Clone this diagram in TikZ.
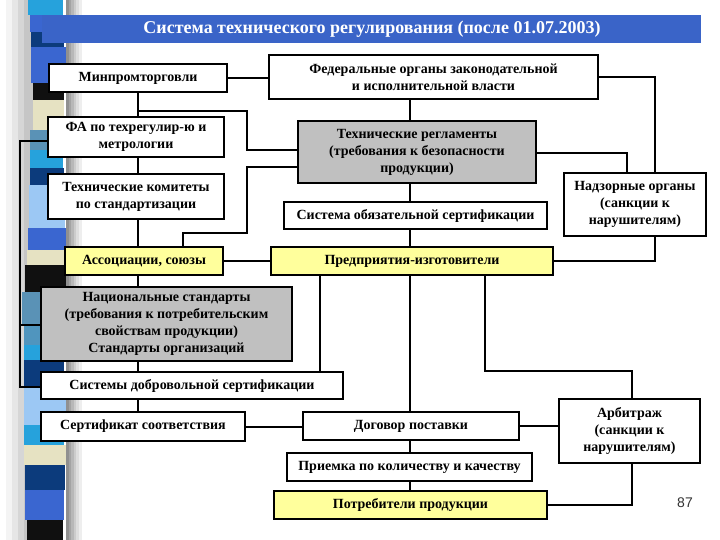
\documentclass[tikz,border=0pt]{standalone}
\usepackage{fontspec}
\setmainfont{Liberation Serif}
\setsansfont{Liberation Sans}
\definecolor{boxgray}{HTML}{C0C0C0}
\definecolor{boxyellow}{HTML}{FFFF9C}
\definecolor{titleblue}{HTML}{3A64C8}
\definecolor{stSky}{HTML}{26A2DC}
\definecolor{stBlue}{HTML}{3A66D0}
\definecolor{stNavy}{HTML}{0C3B7C}
\definecolor{stBlack}{HTML}{101010}
\definecolor{stBeige}{HTML}{E6E2C2}
\definecolor{stSteel}{HTML}{5A92B6}
\definecolor{stLight}{HTML}{9CC8F4}
\definecolor{numgray}{HTML}{333333}
\definecolor{shA}{HTML}{909090}
\definecolor{shB}{HTML}{A4A4A4}
\definecolor{shC}{HTML}{B8B8B8}
\definecolor{shD}{HTML}{CCCCCC}
\definecolor{shE}{HTML}{DEDEDE}
\definecolor{shF}{HTML}{EEEEEE}
\definecolor{lgA}{HTML}{F4F4F4}
\definecolor{lgB}{HTML}{E6E6E6}
\definecolor{lgC}{HTML}{D6D6D6}
\definecolor{lgD}{HTML}{C6C6C6}
\begin{document}
\begin{tikzpicture}[x=1pt,y=-1pt,
  box/.style={draw=black,line width=1.7pt,fill=white,inner sep=0pt,align=center,
    font=\bfseries\fontsize{14}{17}\selectfont},
  gbox/.style={box,fill=boxgray},
  ybox/.style={box,fill=boxyellow},
  conn/.style={line width=2pt,black}]
\useasboundingbox (0,0) rectangle (720,540);
\fill[white] (0,0) rectangle (720,540);
% left soft gradient
\fill[lgA] (6,0) rectangle (13,540);
\fill[lgB] (12,0) rectangle (19,540);
\fill[lgC] (18,0) rectangle (25,540);
\fill[lgD] (24,0) rectangle (34,540);
% left decorative stripes
\foreach \ya/\yb/\stc/\xl/\xr in {0/15/stSky/28/63, 15/32/stBlue/30/66, 32/47/stNavy/31/64, 47/83/stBlue/31/66,
  83/100/stBlack/33/64, 100/130/stBeige/33/64, 130/150/stSteel/30/65, 150/168/stSky/30/63,
  168/185/stNavy/30/64, 185/228/stLight/29/65, 228/250/stBlue/28/66, 250/265/stBeige/27/64,
  265/292/stBlack/25/67, 292/325/stSteel/22/66, 325/345/stSteel!80!stSky/24/64, 345/360/stSky/24/65,
  360/387/stNavy/24/64, 387/425/stLight/24/66, 425/445/stSky/24/64, 445/465/stBeige/24/66,
  465/490/stNavy/25/65, 490/520/stBlue/25/64, 520/540/stBlack/27/63}
  {\fill[\stc] (\xl,\ya) rectangle (\xr,\yb);}
% shadow right of the stripes
\fill[shA] (66,0) rectangle (69,540);
\fill[shB] (68.8,0) rectangle (71.5,540);
\fill[shC] (71.3,0) rectangle (74,540);
\fill[shD] (73.8,0) rectangle (76.5,540);
\fill[shE] (76.3,0) rectangle (79,540);
\fill[shF] (78.8,0) rectangle (82,540);
% title bar
\fill[titleblue] (42,15) rectangle (701,43);
\node[text=white,font=\bfseries\fontsize{18}{21}\selectfont,inner sep=0pt] (title) at (372,29)
  {Система технического регулирования (после 01.07.2003)};
% boxes
\node[box,minimum width=178pt,minimum height=28pt] (minprom) at (138,78) {Минпромторговли};
\node[box,minimum width=329pt,minimum height=44pt] (fed) at (433.5,77)
  {Федеральные органы законодательной\\и исполнительной власти};
\node[box,minimum width=176pt,minimum height=40pt] (fa) at (136,137)
  {ФА по техрегулир-ю и\\метрологии};
\node[gbox,minimum width=238pt,minimum height=62pt] (techreg) at (417,152)
  {Технические регламенты\\(требования к безопасности\\продукции)};
\node[box,minimum width=176pt,minimum height=45pt] (techkom) at (136,196.5)
  {Технические комитеты\\по стандартизации};
\node[box,minimum width=263pt,minimum height=27pt] (oblig) at (415.5,215.5)
  {Система обязательной сертификации};
\node[box,minimum width=142pt,minimum height=63pt] (nadzor) at (635,204.5)
  {Надзорные органы\\(санкции к\\нарушителям)};
\node[ybox,minimum width=158pt,minimum height=28pt] (assoc) at (144,261) {Ассоциации, союзы};
\node[ybox,minimum width=282pt,minimum height=28pt] (predpr) at (412,261) {Предприятия-изготовители};
\node[gbox,minimum width=251pt,minimum height=74pt] (natstd) at (166.5,324)
  {Национальные стандарты\\(требования к потребительским\\свойствам продукции)\\Стандарты организаций};
\node[box,minimum width=302pt,minimum height=27pt] (dobr) at (192,385.5)
  {Системы добровольной сертификации};
\node[box,minimum width=204pt,minimum height=29pt] (sert) at (143,426.5) {Сертификат соответствия};
\node[box,minimum width=216pt,minimum height=28pt] (dogovor) at (411,426) {Договор поставки};
\node[box,minimum width=141pt,minimum height=64pt] (arb) at (629.5,431)
  {Арбитраж\\(санкции к\\нарушителям)};
\node[box,minimum width=245pt,minimum height=28pt] (priem) at (409.5,467)
  {Приемка по количеству и качеству};
\node[ybox,minimum width=273pt,minimum height=28pt] (potreb) at (410.5,505) {Потребители продукции};
\node[font=\sffamily\fontsize{14}{16}\selectfont,text=numgray,inner sep=0pt] (num) at (685,503) {87};
% coordinates
\coordinate (u) at (138,0);
\coordinate (v) at (410,0);
\coordinate (j1) at (138,111);
\coordinate (b1) at (247,111);
\coordinate (b2) at (247,150);
\coordinate (c1) at (247,167);
\coordinate (c2) at (247,233);
\coordinate (c3) at (183,233);
\coordinate (d) at (320,0);
\coordinate (f1) at (485,371);
\coordinate (f2) at (632,371);
\coordinate (g1) at (632,505);
\coordinate (h1) at (655,77);
\coordinate (k1) at (627,153);
\coordinate (m1) at (655,261);
\coordinate (l1) at (20,141);
\coordinate (l2) at (20,387);
\coordinate (l3) at (20,325);
% connectors
\draw[conn] (minprom.east) -- (minprom.east -| fed.west);
\draw[conn] (u |- minprom.south) -- (u |- fa.north);
\draw[conn] (j1) -- (b1) -- (b2) -- (b2 -| techreg.west);
\draw[conn] (c1 -| techreg.west) -- (c1) -- (c2) -- (c3) -- (c3 |- assoc.north);
\draw[conn] (u |- fa.south) -- (u |- techkom.north);
\draw[conn] (u |- techkom.south) -- (u |- assoc.north);
\draw[conn] (assoc.east) -- (predpr.west);
\draw[conn] (u |- assoc.south) -- (u |- natstd.north);
\draw[conn] (u |- natstd.south) -- (u |- dobr.north);
\draw[conn] (u |- dobr.south) -- (u |- sert.north);
\draw[conn] (sert.east) -- (sert.east -| dogovor.west);
\draw[conn] (d |- predpr.south) -- (d |- dobr.north);
\draw[conn] (v |- predpr.south) -- (v |- dogovor.north);
\draw[conn] (f1 |- predpr.south) -- (f1) -- (f2) -- (f2 |- arb.north);
\draw[conn] (dogovor.east) -- (dogovor.east -| arb.west);
\draw[conn] (v |- dogovor.south) -- (v |- priem.north);
\draw[conn] (v |- priem.south) -- (v |- potreb.north);
\draw[conn] (g1 |- arb.south) -- (g1) -- (g1 -| potreb.east);
\draw[conn] (h1 -| fed.east) -- (h1) -- (h1 |- nadzor.north);
\draw[conn] (k1 -| techreg.east) -- (k1) -- (k1 |- nadzor.north);
\draw[conn] (m1 |- nadzor.south) -- (m1) -- (m1 -| predpr.east);
\draw[conn] (v |- fed.south) -- (v |- techreg.north);
\draw[conn] (v |- techreg.south) -- (v |- oblig.north);
\draw[conn] (v |- oblig.south) -- (v |- predpr.north);
\draw[conn] (l1 -| fa.west) -- (l1) -- (l2) -- (l2 -| dobr.west);
\draw[conn] (l3) -- (l3 -| natstd.west);
\end{tikzpicture}
\end{document}
